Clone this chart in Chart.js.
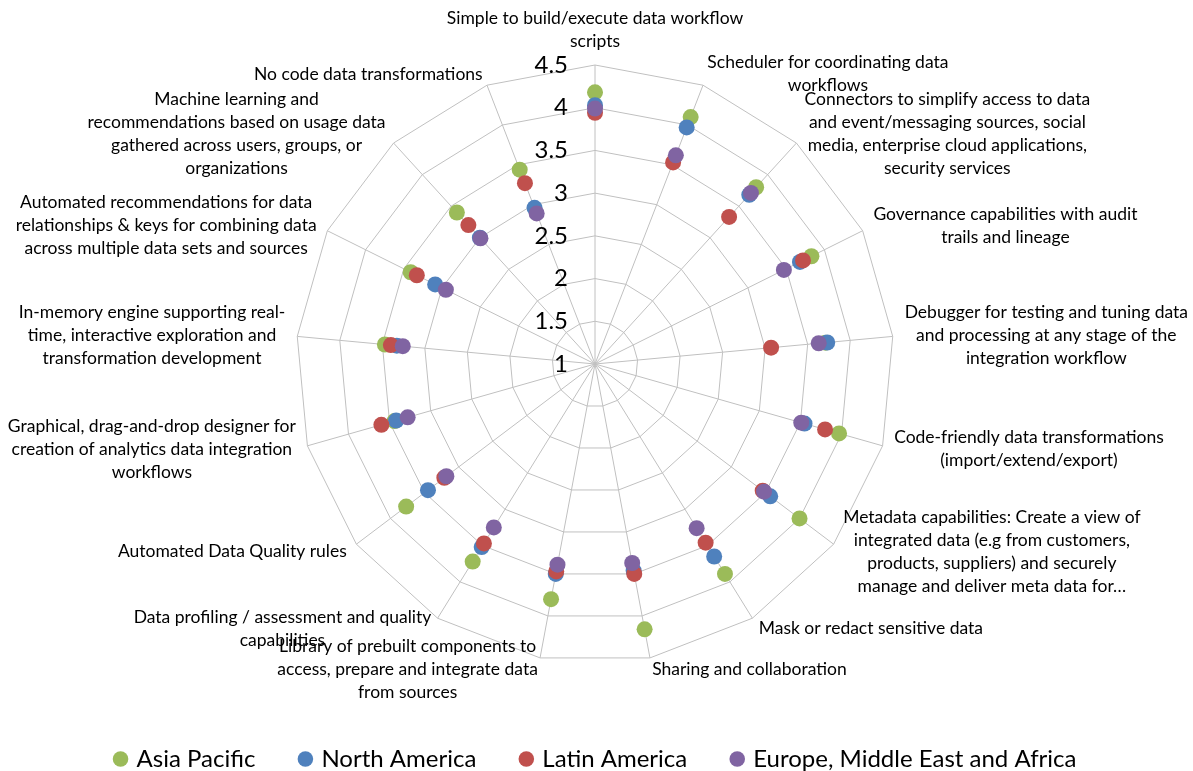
<!DOCTYPE html>
<html>
<head>
<meta charset="utf-8">
<script src="https://cdn.jsdelivr.net/npm/chart.js@4.4.1/dist/chart.umd.min.js"></script>
<style>
  html, body { margin: 0; padding: 0; background: #fff; overflow: hidden; }
  #wrap { width: 1193px; height: 771px; position: relative; }
</style>
</head>
<body>
<div id="wrap"><canvas id="radar"></canvas></div>
<script>
// Capability categories, one spoke each, clockwise from the top (pre-wrapped lines)
const categories = [
  ["Simple to build/execute data workflow", "scripts"],
  ["Scheduler for coordinating data", "workflows"],
  ["Connectors to simplify access to data", "and event/messaging sources, social", "media, enterprise cloud applications,", "security services"],
  ["Governance capabilities with audit", "trails and lineage"],
  ["Debugger for testing and tuning data", "and processing at any stage of the", "integration workflow"],
  ["Code-friendly data transformations", "(import/extend/export)"],
  ["Metadata capabilities: Create a view of", "integrated data (e.g from customers,", "products, suppliers) and securely", "manage and deliver meta data for\u2026"],
  ["Mask or redact sensitive data"],
  ["Sharing and collaboration"],
  ["Library of prebuilt components to", "access, prepare and integrate data", "from sources"],
  ["Data profiling / assessment and quality", "capabilities"],
  ["Automated Data Quality rules"],
  ["Graphical, drag-and-drop designer for", "creation of analytics data integration", "workflows"],
  ["In-memory engine supporting real-", "time, interactive exploration and", "transformation development"],
  ["Automated recommendations for data", "relationships & keys for combining data", "across multiple data sets and sources"],
  ["Machine learning and", "recommendations based on usage data", "gathered across users, groups, or", "organizations"],
  ["No code data transformations"]
];

// Average importance rating per region
const asiaPacific  = [4.18, 4.10, 3.80, 3.83, 3.71, 3.97, 4.00, 3.89, 4.16, 3.80, 3.72, 3.77, 3.44, 3.47, 3.41, 3.40, 3.44];
const northAmerica = [4.03, 3.97, 3.68, 3.68, 3.73, 3.55, 3.57, 3.65, 3.46, 3.50, 3.52, 3.45, 3.42, 3.33, 3.09, 3.00, 2.96];
const latinAmerica = [3.94, 3.53, 3.33, 3.72, 3.07, 3.80, 3.46, 3.46, 3.50, 3.47, 3.47, 3.21, 3.60, 3.40, 3.33, 3.20, 3.27];
const emea         = [3.99, 3.62, 3.71, 3.47, 3.63, 3.51, 3.48, 3.26, 3.37, 3.39, 3.25, 3.18, 3.28, 3.26, 2.95, 2.99, 2.89];

const seriesNames  = ["Asia Pacific", "North America", "Latin America", "Europe, Middle East and Africa"];
const seriesValues = [asiaPacific, northAmerica, latinAmerica, emea];
const seriesColors = ["#9bbb59", "#4f81bd", "#c0504d", "#8064a2"];

// Rating axis
const axisMin = 1;
const axisMax = 4.5;
const axisStep = 0.5;

const FONT_FAMILY = "Lato, 'Open Sans', sans-serif";
const LABEL_SIZE = 17.5;
const LABEL_LINE = 23;
const TICK_SIZE = 24;
const LEGEND_SIZE = 24;

// Rating numbers, right-aligned just left of the vertical spoke
const tickLabels = {
  id: "tickLabels",
  beforeDatasetsDraw(chart) {
    const r = chart.scales.r;
    const ctx = chart.ctx;
    ctx.save();
    ctx.font = TICK_SIZE + "px " + FONT_FAMILY;
    ctx.fillStyle = "#000";
    ctx.textAlign = "right";
    ctx.textBaseline = "middle";
    r.ticks.forEach(t => {
      const d = r.getDistanceFromCenterForValue(t.value);
      ctx.fillText(String(t.value), r.xCenter - 27, r.yCenter - d);
    });
    ctx.restore();
  }
};

// Category captions placed just outside each spoke end, lines centred in their block
const spokeLabels = {
  id: "spokeLabels",
  afterDatasetsDraw(chart) {
    const r = chart.scales.r;
    const ctx = chart.ctx;
    ctx.save();
    ctx.font = LABEL_SIZE + "px " + FONT_FAMILY;
    ctx.fillStyle = "#000";
    ctx.textAlign = "center";
    ctx.textBaseline = "middle";
    chart.data.labels.forEach((lines, i) => {
      const p = r.getPointPosition(i, r.drawingArea + 12);
      const w = Math.max(...lines.map(l => ctx.measureText(l).width));
      const h = lines.length * LABEL_LINE;
      const dx = p.x - r.xCenter;
      let left, top;
      if (Math.abs(dx) < 1) { left = p.x - w / 2; top = p.y - h; }
      else if (dx > 0) { left = p.x; top = p.y - h / 2; }
      else { left = p.x - w; top = p.y - h / 2; }
      lines.forEach((l, k) => ctx.fillText(l, left + w / 2, top + LABEL_LINE * (k + 0.5)));
    });
    ctx.restore();
  }
};

new Chart(document.getElementById("radar"), {
  type: "radar",
  data: {
    labels: categories,
    datasets: seriesNames.map((name, i) => ({
      label: name,
      data: seriesValues[i],
      showLine: false,
      fill: false,
      borderWidth: 0,
      backgroundColor: seriesColors[i],
      borderColor: seriesColors[i],
      pointBackgroundColor: seriesColors[i],
      pointBorderColor: seriesColors[i],
      pointBorderWidth: 0,
      pointRadius: 8,
      pointHoverRadius: 8,
      order: seriesNames.length - i
    }))
  },
  options: {
    responsive: true,
    maintainAspectRatio: false,
    animation: false,
    layout: { padding: { top: 0, left: 0, right: 0, bottom: -10 } },
    plugins: {
      tooltip: { enabled: false },
      legend: {
        position: "bottom",
        labels: {
          usePointStyle: true,
          pointStyle: "circle",
          boxWidth: 8,
          boxHeight: 11,
          padding: 46,
          color: "#000",
          font: { family: FONT_FAMILY, size: LEGEND_SIZE },
          sort: (a, b) => a.datasetIndex - b.datasetIndex
        }
      }
    },
    scales: {
      r: {
        min: axisMin,
        max: axisMax,
        ticks: { stepSize: axisStep, display: false },
        grid: { color: "#c0c0c0", lineWidth: 1, circular: false },
        angleLines: { color: "#c0c0c0", lineWidth: 1 },
        pointLabels: { display: false },
        afterFit(scale) {
          // leave room around the web for the long captions
          scale.xCenter = 595;
          scale.yCenter = 364;
          scale.drawingArea = 299;
        }
      }
    }
  },
  plugins: [tickLabels, spokeLabels]
});
</script>
</body>
</html>
